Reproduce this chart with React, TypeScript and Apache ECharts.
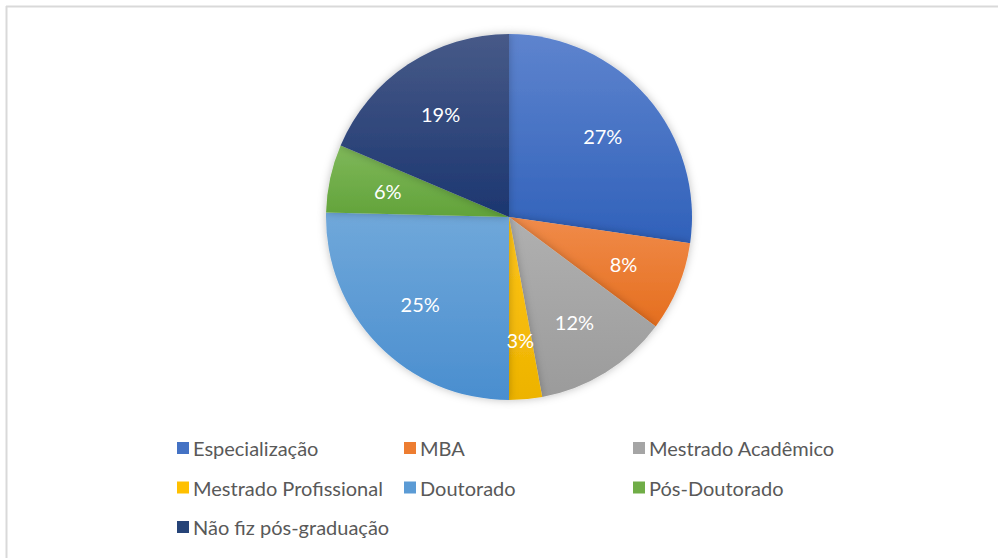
import React, { useEffect, useRef } from "react";
import * as echarts from "echarts";

const categories = [
  "Especialização",
  "MBA",
  "Mestrado Acadêmico",
  "Mestrado Profissional",
  "Doutorado",
  "Pós-Doutorado",
  "Não fiz pós-graduação",
];
const values = [27.3, 7.9, 11.9, 2.9, 25.4, 6.0, 18.6];
const baseColors = ["#4472C4", "#ED7D31", "#A5A5A5", "#FFC000", "#5B9BD5", "#70AD47", "#264478"];
const topColors = ["#5E84CE", "#F08B4A", "#B0B0B0", "#FFC51A", "#70A8DA", "#7FB85A", "#475A88"];
const bottomColors = ["#3061BA", "#E56E1E", "#9B9B9B", "#EDB300", "#4A8ECF", "#62A33A", "#1C3670"];

const legendCols = [
  ["Especialização", "Mestrado Profissional", "Não fiz pós-graduação"],
  ["MBA", "Doutorado"],
  ["Mestrado Acadêmico", "Pós-Doutorado"],
];
const legendLefts = [172, 399, 628];

export default function App() {
  const ref = useRef<HTMLDivElement>(null);
  useEffect(() => {
    if (!ref.current) return;
    const chart = echarts.init(ref.current, null, { renderer: "svg" });
    const data = categories.map((name, i) => ({
      name,
      value: values[i],
      itemStyle: {
        color: new echarts.graphic.LinearGradient(0, 0, 0, 1, [
          { offset: 0, color: topColors[i] },
          { offset: 1, color: bottomColors[i] },
        ]),
      },
    }));
    const fontFamily = "Lato, 'Liberation Sans', sans-serif";
    chart.setOption({
      animation: false,
      backgroundColor: "#ffffff",
      color: baseColors,
      legend: legendCols.map((col, k) => ({
        data: col.map((n) => ({ name: n, itemStyle: { color: baseColors[categories.indexOf(n)] } })),
        orient: "vertical",
        left: legendLefts[k],
        top: 433,
        itemWidth: 12,
        itemHeight: 12,
        itemGap: 19.5,
        icon: "rect",
        selectedMode: false,
        textStyle: { color: "#595959", fontSize: 20, fontFamily, padding: [0, 0, 0, -1] },
      })),
      graphic: [
        { type: "line", shape: { x1: 6, y1: 6.5, x2: 998, y2: 6.5 }, style: { stroke: "#d9d9d9", lineWidth: 2 } },
        { type: "line", shape: { x1: 6.5, y1: 6, x2: 6.5, y2: 558 }, style: { stroke: "#d9d9d9", lineWidth: 2 } },
      ],
      series: [
        {
          type: "pie",
          center: [509, 217],
          radius: [0, 183],
          startAngle: 90,
          clockwise: true,
          data,
          label: { show: false },
          labelLine: { show: false },
          itemStyle: {
            borderWidth: 0,
            shadowBlur: 8,
            shadowColor: "rgba(0,0,0,0.25)",
          },
          emphasis: { disabled: true },
        },
        {
          type: "pie",
          center: [509, 217],
          radius: [0, 242],
          startAngle: 90,
          clockwise: true,
          silent: true,
          data: categories.map((name, i) => ({ name, value: values[i] })),
          itemStyle: { color: "rgba(0,0,0,0)" },
          label: {
            show: true,
            position: "inside",
            formatter: "{d}%",
            color: "#ffffff",
            fontSize: 20,
            fontFamily,
          },
          percentPrecision: 0,
          labelLine: { show: false },
          emphasis: { disabled: true },
          z: 3,
        },
      ],
    });
    return () => chart.dispose();
  }, []);
  return (
    <div
      ref={ref}
      style={{ position: "absolute", left: 0, top: 0, width: 998, height: 558 }}
    />
  );
}
